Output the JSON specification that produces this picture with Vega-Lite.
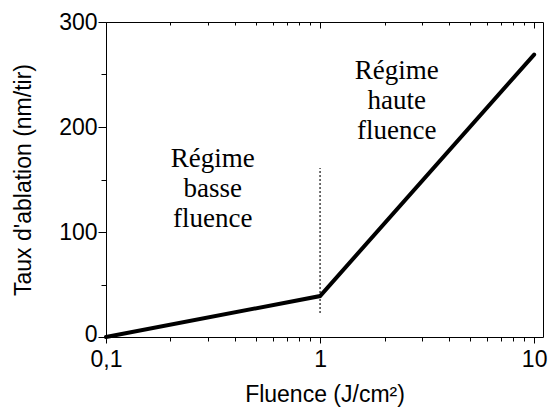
{
  "$schema": "https://vega.github.io/schema/vega-lite/v6.json",
  "width": 437,
  "height": 315,
  "autosize": "none",
  "padding": {"left": 106, "top": 22, "right": 8, "bottom": 71},
  "background": "white",
  "config": {"view": {"stroke": "black", "strokeWidth": 1}},
  "resolve": {"axis": {"x": "independent"}},
  "layer": [
    {
      "data": {"values": [
        {"fluence": 0.1, "taux": 0},
        {"fluence": 1, "taux": 39},
        {"fluence": 10, "taux": 269}
      ]},
      "mark": {"type": "line", "color": "black", "strokeWidth": 4, "strokeCap": "round"},
      "encoding": {
        "x": {"field": "fluence", "type": "quantitative",
          "scale": {"type": "log", "domain": [0.1, 11], "nice": false},
          "axis": {"orient": "bottom", "title": "Fluence (J/cm²)",
            "values": [0.1,0.2,0.3,0.4,0.5,0.6,0.7,0.8,0.9,1,2,3,4,5,6,7,8,9,10],
            "labelExpr": "datum.value == 0.1 ? '0,1' : (datum.value == 1 ? '1' : (datum.value == 10 ? '10' : ''))",
            "domain": false, "grid": false,
            "tickColor": "black",
            "tickSize": {"condition": {"test": "datum.value == 0.1 || datum.value == 1 || datum.value == 10", "value": 6}, "value": 4},
            "labelFont": "Liberation Sans", "labelFontSize": 23, "labelColor": "black", "labelPadding": 5,
            "labelFlush": false, "labelOverlap": false,
            "titleFont": "Liberation Sans", "titleFontSize": 23, "titleFontWeight": "normal", "titleColor": "black", "titlePadding": 12}},
        "y": {"field": "taux", "type": "quantitative",
          "scale": {"domain": [0, 300], "nice": false},
          "axis": {"title": "Taux d'ablation (nm/tir)",
            "values": [0, 50, 100, 150, 200, 250, 300],
            "labelExpr": "datum.value % 100 == 0 ? datum.label : ''",
            "domain": false, "grid": false, "tickColor": "black",
            "tickSize": {"condition": {"test": "datum.value % 100 == 0", "value": 8}, "value": 5},
            "labelOffset": {"condition": {"test": "datum.value == 0", "value": -3}, "value": 0},
            "labelFont": "Liberation Sans", "labelFontSize": 23, "labelColor": "black", "labelPadding": 1,
            "labelFlush": false, "labelOverlap": false,
            "titleFont": "Liberation Sans", "titleFontSize": 23, "titleFontWeight": "normal", "titleColor": "black", "titlePadding": 23}}
      }
    },
    {
      "data": {"values": [{"fluence": 1, "y1": 23, "y2": 161}]},
      "mark": {"type": "rule", "color": "black", "strokeWidth": 1.5, "strokeDash": [1.5, 2.5]},
      "encoding": {
        "x": {"field": "fluence", "type": "quantitative",
          "axis": {"orient": "top", "title": null,
            "values": [0.1,0.2,0.3,0.4,0.5,0.6,0.7,0.8,0.9,1,2,3,4,5,6,7,8,9,10],
            "labels": false, "domain": false, "grid": false, "tickColor": "black",
            "tickSize": {"condition": {"test": "datum.value == 0.1 || datum.value == 1 || datum.value == 10", "value": -6}, "value": -3}}},
        "y": {"field": "y1", "type": "quantitative"},
        "y2": {"field": "y2"}
      }
    },
    {
      "data": {"values": [
        {"fluence": 0.315, "taux": 170, "label": "Régime\nbasse\nfluence"},
        {"fluence": 2.28, "taux": 253, "label": "Régime\nhaute\nfluence"}
      ]},
      "mark": {"type": "text", "font": "Liberation Serif", "fontSize": 27, "color": "black",
        "lineBreak": "\n", "lineHeight": 30, "align": "center", "baseline": "middle"},
      "encoding": {
        "x": {"field": "fluence", "type": "quantitative", "axis": null},
        "y": {"field": "taux", "type": "quantitative"},
        "text": {"field": "label"}
      }
    }
  ]
}
